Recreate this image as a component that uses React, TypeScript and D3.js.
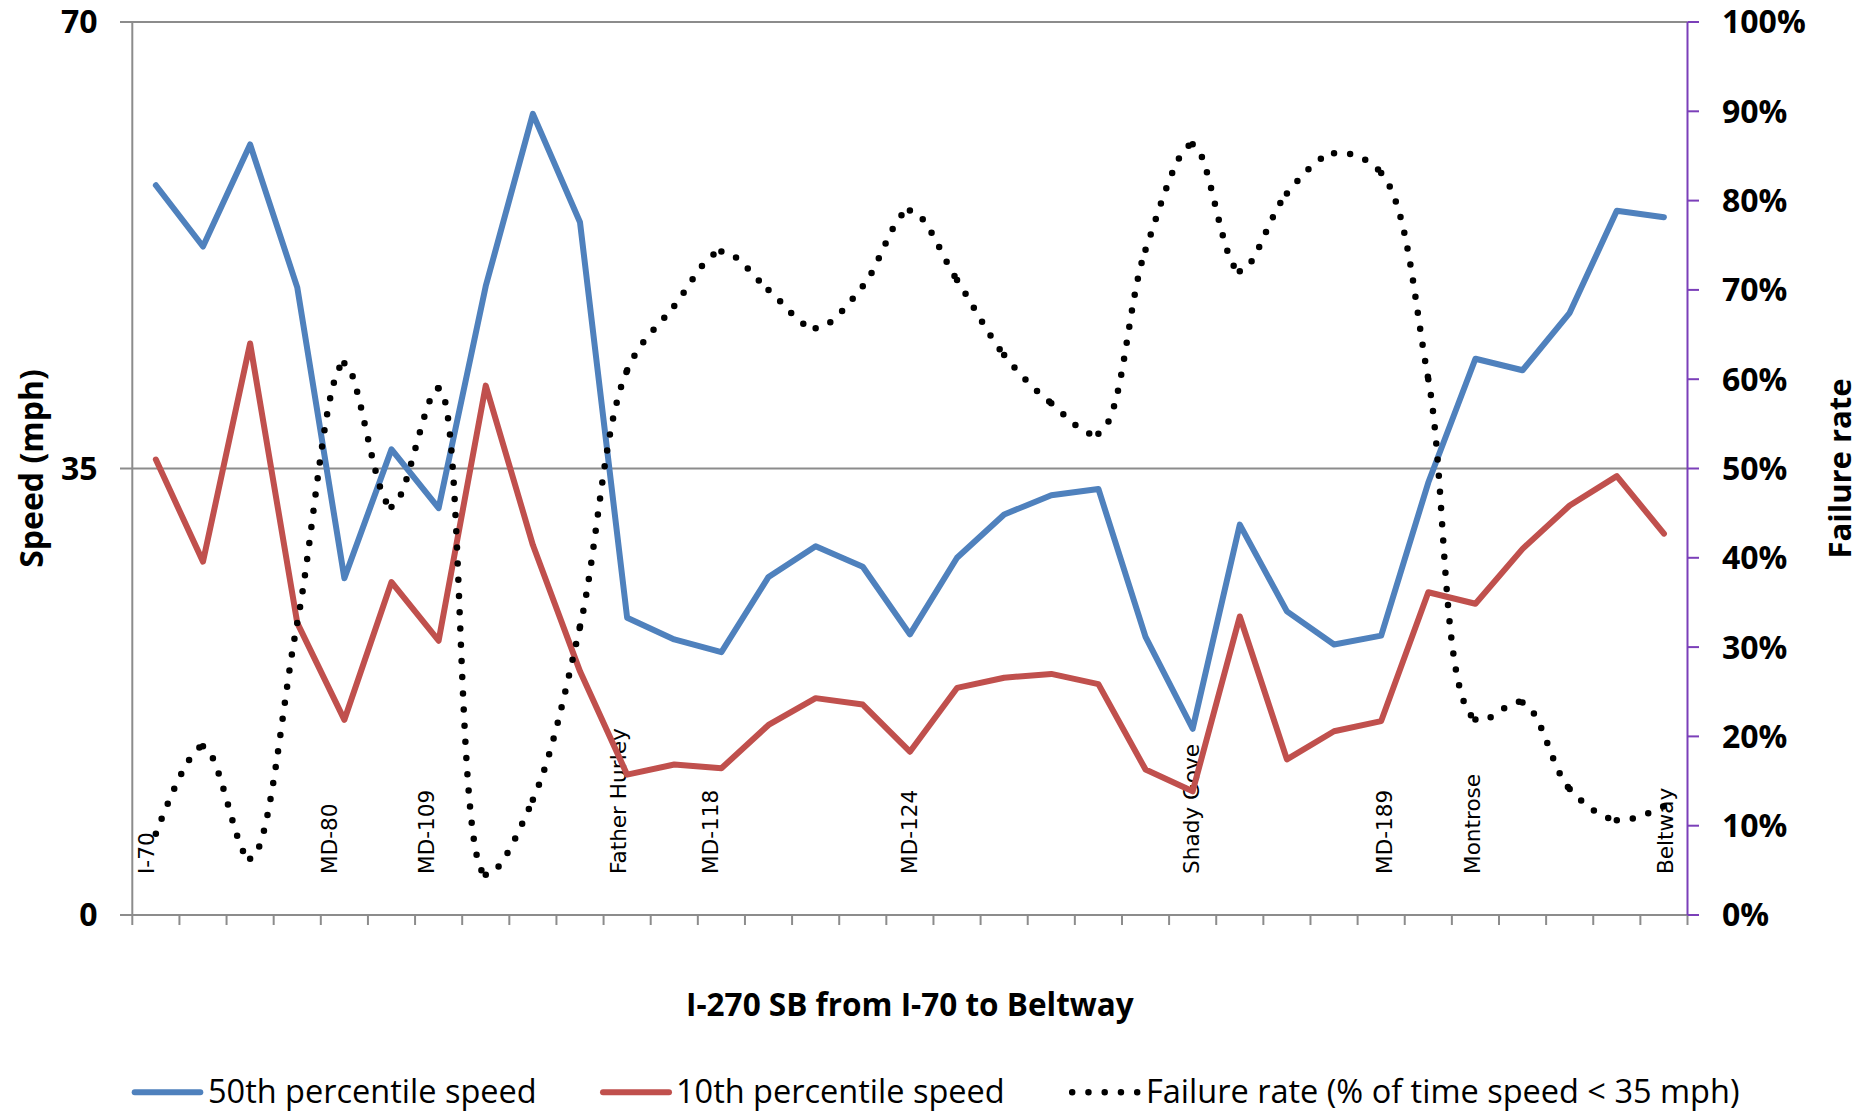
import React from 'react';
import * as d3 from 'd3';

// ---- data ----
const segments: string[] = [
  'S1','S2','S3','S4','S5','S6','S7','S8','S9','S10','S11','S12','S13','S14','S15','S16','S17',
  'S18','S19','S20','S21','S22','S23','S24','S25','S26','S27','S28','S29','S30','S31','S32','S33',
];
const speed50: number[] = [
  57.2, 52.4, 60.4, 49.2, 26.4, 36.5, 31.9, 49.3, 62.8, 54.3, 23.3, 21.6, 20.6, 26.5, 28.9, 27.3, 22.0,
  28.0, 31.4, 32.9, 33.4, 21.8, 14.6, 30.6, 23.8, 21.2, 21.9, 33.9, 43.6, 42.7, 47.2, 55.2, 54.7,
];
const speed10: number[] = [
  35.7, 27.7, 44.8, 22.9, 15.3, 26.1, 21.5, 41.5, 29.0, 19.1, 11.0, 11.8, 11.5, 14.9, 17.0, 16.5, 12.8,
  17.8, 18.6, 18.9, 18.1, 11.4, 9.7, 23.4, 12.2, 14.4, 15.2, 25.3, 24.4, 28.7, 32.1, 34.4, 29.9,
];
const failureRate: number[] = [
  9.1, 18.9, 6.3, 32.7, 61.8, 45.7, 59.0, 4.5, 12.9, 32.3, 61.0, 68.2, 74.3, 70.0, 65.7, 70.4, 78.9,
  71.1, 62.7, 57.3, 53.9, 74.5, 86.3, 72.1, 80.8, 85.3, 83.1, 60.0, 21.9, 23.8, 14.1, 10.6, 12.2,
];
const speedTicks: number[] = [0, 35, 70];
const failureTicks: number[] = [0, 10, 20, 30, 40, 50, 60, 70, 80, 90, 100];
const landmarkNames: string[] = [
  'I-70', 'MD-80', 'MD-109', 'Father Hurley', 'MD-118', 'MD-124', 'Shady Gove', 'MD-189', 'Montrose', 'Beltway',
];
// position along the corridor, in segment units from the start
const landmarkPos: number[] = [0.46, 4.35, 6.4, 10.48, 12.43, 16.65, 22.63, 26.72, 28.59, 32.7];
const legendLabels: string[] = [
  '50th percentile speed', '10th percentile speed', 'Failure rate (% of time speed < 35 mph)',
];

const BLUE = '#4F81BD';
const RED = '#C0504D';
const GRID = '#8C8C8C';
const PURPLE = '#7B3FB9';
const BOLD = "'Open Sans', 'DejaVu Sans', sans-serif";

export default function App() {
  const W = 1868, H = 1111;
  const left = 132.3, right = 1687.5, top = 22, bottom = 915;

  const x = d3.scaleBand<string>().domain(segments).range([left, right]).padding(0);
  const xc = (i: number) => (x(segments[i]) as number) + x.bandwidth() / 2;
  const xPos = d3.scaleLinear().domain([0, segments.length]).range([left, right]);
  const y = d3.scaleLinear().domain([0, 70]).range([bottom, top]);
  const yR = d3.scaleLinear().domain([0, 100]).range([bottom, top]);

  const line = d3.line<number>().x((_, i) => xc(i)).y((d) => y(d));

  // failure-rate smoothed line; each curve piece is kept as its own path so the
  // dot pattern restarts at every data point (as in the original)
  const failSegs: string[] = [];
  let cx = 0, cy = 0;
  const recorder: any = {
    moveTo(px: number, py: number) { cx = px; cy = py; },
    lineTo(px: number, py: number) {
      const p = d3.path(); p.moveTo(cx, cy); p.lineTo(px, py); failSegs.push(p.toString()); cx = px; cy = py;
    },
    bezierCurveTo(a: number, b: number, c: number, d: number, px: number, py: number) {
      const p = d3.path(); p.moveTo(cx, cy); p.bezierCurveTo(a, b, c, d, px, py); failSegs.push(p.toString()); cx = px; cy = py;
    },
    closePath() {},
  };
  d3.line<number>()
    .x((_, i) => xc(i))
    .y((d) => yR(d))
    .curve(d3.curveCatmullRom.alpha(0.5))
    .context(recorder)(failureRate);

  const boundaries = d3.range(segments.length + 1).map((k) => xPos(k));
  const tickFs = 32;

  return (
    <svg width={W} height={H} style={{ position: 'absolute', left: 0, top: 0, display: 'block', background: '#fff' }}>
      {/* gridlines */}
      {speedTicks.filter((t) => t > 0).map((t) => (
        <line key={'g' + t} x1={120} x2={right} y1={y(t)} y2={y(t)} stroke={GRID} strokeWidth={2} />
      ))}
      {/* left axis */}
      <line x1={left} x2={left} y1={top} y2={bottom} stroke={GRID} strokeWidth={2} />
      <line x1={120} x2={left} y1={bottom} y2={bottom} stroke={GRID} strokeWidth={2} />
      {speedTicks.map((t) => (
        <text key={'l' + t} x={97.5} y={y(t) + 0.357 * tickFs} textAnchor="end"
          fontFamily={BOLD} fontWeight={700} fontSize={tickFs} fill="#000">{t}</text>
      ))}
      {/* bottom axis */}
      <line x1={left} x2={right} y1={bottom} y2={bottom} stroke={GRID} strokeWidth={2} />
      {boundaries.map((bx, k) => (
        <line key={'b' + k} x1={bx} x2={bx} y1={bottom} y2={bottom + 10} stroke={GRID} strokeWidth={2} />
      ))}
      {/* right axis */}
      <line x1={right} x2={right} y1={top} y2={bottom} stroke={PURPLE} strokeWidth={2} />
      {failureTicks.map((t) => (
        <g key={'r' + t}>
          <line x1={right} x2={right + 11.5} y1={yR(t)} y2={yR(t)} stroke={PURPLE} strokeWidth={2} />
          <text x={1722} y={yR(t) + 0.357 * tickFs} textAnchor="start"
            fontFamily={BOLD} fontWeight={700} fontSize={tickFs} fill="#000">{t + '%'}</text>
        </g>
      ))}

      {/* landmark labels */}
      {landmarkNames.map((name, i) => (
        <text key={name} transform={`translate(${xPos(landmarkPos[i])},874) rotate(-90)`}
          fontFamily="'DejaVu Sans', sans-serif" fontSize={21.6} fill="#000">{name}</text>
      ))}

      {/* series */}
      <path d={line(speed50) as string} fill="none" stroke={BLUE} strokeWidth={6} strokeLinejoin="round" strokeLinecap="round" />
      <path d={line(speed10) as string} fill="none" stroke={RED} strokeWidth={6} strokeLinejoin="round" strokeLinecap="round" />
      {failSegs.map((d, i) => (
        <path key={'f' + i} d={d} fill="none" stroke="#000" strokeWidth={6.5}
          strokeLinecap="round" strokeDasharray="0 16.2" />
      ))}

      {/* axis titles */}
      <text transform={`translate(43,${(top + bottom) / 2}) rotate(-90)`} textAnchor="middle"
        fontFamily={BOLD} fontWeight={700} fontSize={32} fill="#000">Speed (mph)</text>
      <text transform={`translate(1851,${(top + bottom) / 2}) rotate(-90)`} textAnchor="middle"
        fontFamily={BOLD} fontWeight={700} fontSize={31} fill="#000">Failure rate</text>
      <text x={(left + right) / 2} y={1015.7} textAnchor="middle"
        fontFamily={BOLD} fontWeight={700} fontSize={31.5} fill="#000">I-270 SB from I-70 to Beltway</text>

      {/* legend */}
      <line x1={134.7} x2={200.3} y1={1092.3} y2={1092.3} stroke={BLUE} strokeWidth={6} strokeLinecap="round" />
      <text x={208} y={1103.3} fontFamily={BOLD} fontSize={32.5} fill="#000">{legendLabels[0]}</text>
      <line x1={603} x2={669} y1={1092.3} y2={1092.3} stroke={RED} strokeWidth={6} strokeLinecap="round" />
      <text x={676} y={1103.3} fontFamily={BOLD} fontSize={32.5} fill="#000">{legendLabels[1]}</text>
      <line x1={1072.2} x2={1137.3} y1={1092.3} y2={1092.3} stroke="#000" strokeWidth={6.5}
        strokeLinecap="round" strokeDasharray="0 16.25" />
      <text x={1146} y={1103.3} fontFamily={BOLD} fontSize={32.5} fill="#000">{legendLabels[2]}</text>
    </svg>
  );
}
